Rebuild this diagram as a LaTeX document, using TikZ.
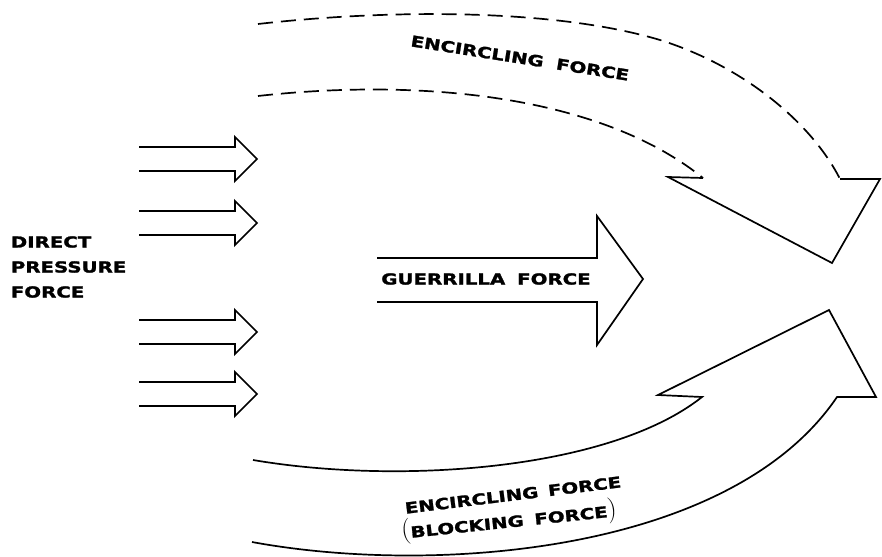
\documentclass[tikz,border=0pt]{standalone}
\usepackage{fontspec}
\newfontfamily\labelfont[FakeStretch=1.3,FakeBold=1.6]{DejaVu Sans Bold}

\begin{document}
\begin{tikzpicture}[x=1pt,y=-1pt,line width=1.7pt,
        lbl/.style={inner sep=0pt,font=\labelfont\fontsize{15.2}{25}\selectfont},
        dashedline/.style={dash pattern=on 15pt off 8pt}]
        \newcommand\prn[1]{{\normalfont\fontsize{26}{26}\selectfont#1}}
        \useasboundingbox (0,0) rectangle (882,556);

        % direct pressure force
        \foreach \y in {159,223,332,394}{
            \draw (139,\y-12) -- (235,\y-12) -- (235,\y-22) -- (257,\y) -- (235,\y+22) -- (235,\y+12) -- (139,\y+12);
        }
        \node[lbl,anchor=west,align=left] (direct) at (10,267) {DIRECT\\PRESSURE\\FORCE};

        % guerrilla force
        \draw (377,258) -- (597,258) -- (597,216) -- (643,279) -- (597,345) -- (597,302) -- (377,302);
        \node[lbl] (guerrilla) at (486,279) {GUERRILLA\hspace{5pt} FORCE};

        % encircling force, top
        \draw[dashedline] (258,24) .. controls (400,8) and (560,10) .. (660,40)
            .. controls (740,65) and (810,120) .. (840,179);
        \draw[dashedline] (258,96) .. controls (420,78) and (600,95) .. (703,178);
        \draw (840,179) -- (880,179) -- (832,263) -- (668,177) -- (703,178);
        \node[lbl,rotate=-9] (topenc) at (520,58) {ENCIRCLING\hspace{6pt} FORCE};

        % encircling force, bottom
        \draw (252,542) .. controls (430,575) and (730,555) .. (837,397) -- (876,397) -- (829,310)
            -- (658,395) -- (702,397) .. controls (610,470) and (400,485) .. (253,460);
        \node[lbl,rotate=7] (botenc) at (513,495) {ENCIRCLING\hspace{3pt} FORCE};
        \node[lbl,rotate=6] (blocking) at (509,521) {\prn{(}BLOCKING\hspace{4pt} FORCE\prn{)}};
    \end{tikzpicture}
\end{document}
